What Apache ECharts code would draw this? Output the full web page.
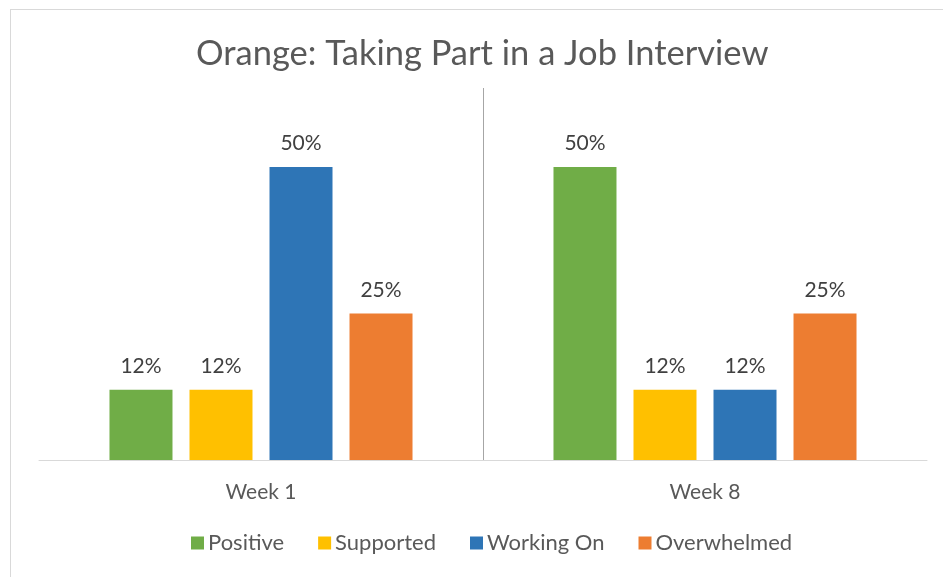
<!DOCTYPE html>
<html>
<head>
<meta charset="utf-8">
<script src="https://cdn.jsdelivr.net/npm/echarts@6/dist/echarts.min.js"></script>
<style>
html,body{margin:0;padding:0;overflow:hidden;background:#fff;}
#chart{position:absolute;left:0;top:0;width:943px;height:577px;}
#frame{position:absolute;left:10px;top:9px;width:1000px;height:1000px;border:1px solid #d9d9d9;pointer-events:none;}
</style>
</head>
<body>
<div id="chart"></div>
<div id="frame"></div>
<script>
const categories = ['Week 1', 'Week 8'];
const seriesNames = ['Positive', 'Supported', 'Working On', 'Overwhelmed'];
const positive = [12, 50];
const supported = [12, 12];
const workingOn = [50, 12];
const overwhelmed = [25, 25];
const colors = ['#70ad47', '#ffc000', '#2e75b6', '#ed7d31'];

const values = [positive, supported, workingOn, overwhelmed];
const FONT = 'Lato';

const chart = echarts.init(document.getElementById('chart'));
chart.setOption({
  animation: false,
  title: {
    text: 'Orange: Taking Part in a Job Interview',
    left: 191,
    top: 31,
    textStyle: { fontFamily: FONT, fontSize: 34.5, fontWeight: 'normal', color: '#595959' }
  },
  legend: {
    bottom: 18,
    left: 186,
    itemWidth: 13,
    itemHeight: 13,
    itemGap: 34,
    icon: 'rect',
    textStyle: { fontFamily: FONT, fontSize: 22, color: '#595959', padding: [0, 0, 0, -1] },
    data: seriesNames
  },
  grid: { left: 39, right: 16, top: 88, bottom: 117 },
  xAxis: {
    type: 'category',
    data: categories,
    axisLine: { lineStyle: { color: '#d9d9d9', width: 1 } },
    axisTick: { show: false },
    axisLabel: { fontFamily: FONT, fontSize: 21, color: '#595959', margin: 22 },
    splitLine: { show: true, lineStyle: { color: ['rgba(0,0,0,0)', '#a6a6a6', 'rgba(0,0,0,0)'], width: 1 } }
  },
  yAxis: {
    type: 'value',
    min: 0,
    max: 63.5,
    show: false,
    splitLine: { show: false }
  },
  series: seriesNames.map((name, i) => ({
    name: name,
    type: 'bar',
    data: values[i],
    barWidth: 63,
    barGap: '27%',
    itemStyle: { color: colors[i] },
    label: {
      show: true,
      position: 'top',
      distance: 13,
      formatter: p => p.value + '%',
      fontFamily: FONT,
      fontSize: 21,
      color: '#404040'
    }
  }))
});
</script>
</body>
</html>
